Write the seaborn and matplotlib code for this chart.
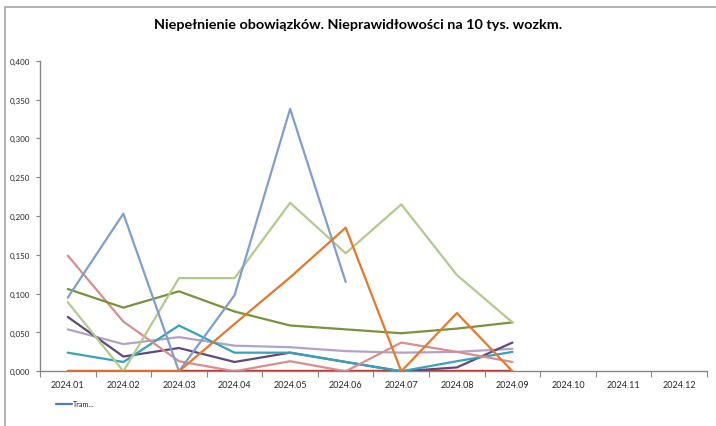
import numpy as np
import pandas as pd
import matplotlib
matplotlib.use("Agg")
import matplotlib.pyplot as plt
import seaborn as sns
from matplotlib.patches import Rectangle
from matplotlib.ticker import FuncFormatter, FixedLocator

sns.set_theme(style="white")
plt.rcParams['font.family'] = ['Lato', 'DejaVu Sans']

months = ["2024.01", "2024.02", "2024.03", "2024.04", "2024.05", "2024.06",
          "2024.07", "2024.08", "2024.09", "2024.10", "2024.11", "2024.12"]
nan = np.nan
tram = [0, 0, 0, 0, 0, 0, 0, 0, 0, nan, nan, nan]
red_s = [0, 0, 0, 0, 0, 0, 0, 0, 0, nan, nan, nan]
lpurple = [0.054, 0.035, 0.044, 0.033, 0.031, 0.026, 0.024, 0.025, 0.029, nan, nan, nan]
dpurple = [0.070, 0.019, 0.030, 0.012, 0.024, 0.012, 0.000, 0.005, 0.037, nan, nan, nan]
teal = [0.024, 0.012, 0.059, 0.024, 0.024, 0.012, 0.000, 0.013, 0.025, nan, nan, nan]
pink = [0.149, 0.064, 0.013, 0.000, 0.013, 0.000, 0.037, 0.025, 0.012, nan, nan, nan]
dgreen = [0.106, 0.082, 0.103, 0.077, 0.059, 0.054, 0.049, 0.055, 0.063, nan, nan, nan]
lgreen = [0.089, 0.000, 0.120, 0.120, 0.217, 0.152, 0.215, 0.124, 0.063, nan, nan, nan]
lblue = [0.095, 0.203, 0.000, 0.098, 0.338, 0.115, nan, nan, nan, nan, nan, nan]
orange = [0.000, 0.000, 0.000, 0.061, 0.121, 0.185, 0.000, 0.075, 0.000, nan, nan, nan]

series = [
    ("Tram...", tram, "#4F7BC0"),
    ("s2", red_s, "#B0413E"),
    ("s3", lpurple, "#B3A2C7"),
    ("s4", dpurple, "#604A7B"),
    ("s5", teal, "#37A2BA"),
    ("s6", pink, "#D88E8C"),
    ("s7", dgreen, "#77933C"),
    ("s8", lgreen, "#B2CB8B"),
    ("s9", lblue, "#7F9ED0"),
    ("s10", orange, "#E5792B"),
]

W, H = 716, 427
fig = plt.figure(figsize=(W / 100, H / 100), dpi=100)
fig.patch.set_facecolor("white")
# chart frame
fig.add_artist(Rectangle((5 / W, -0.1), 1.2, (H - 8) / H + 0.1, transform=fig.transFigure,
                         fill=False, edgecolor="#A6A6A6", linewidth=1.2))

ax = fig.add_axes([40 / W, (H - 372.3) / H, (707 - 40) / W, (372.3 - 61.7) / H])
ax.set_facecolor("white")

xpos = np.arange(len(months))
for i, (name, vals, col) in enumerate(series):
    df = pd.DataFrame({"x": xpos, "y": vals})
    sns.lineplot(data=df, x="x", y="y", ax=ax, color=col, linewidth=1.6,
                 label=name if i == 0 else None, legend=False, zorder=2 + i)

ax.set_xlim(-0.5, len(months) - 0.5)
ax.set_ylim(0, 0.4)
ax.set_yticks(np.arange(0, 0.401, 0.05))
ax.yaxis.set_major_formatter(FuncFormatter(lambda v, p: f"{v:.3f}".replace(".", ",")))
ax.set_xticks(xpos)
ax.set_xticklabels(months)
ax.xaxis.set_minor_locator(FixedLocator(np.arange(-0.5, len(months), 1.0)))
ax.tick_params(axis="x", which="major", length=0, labelsize=6.5, pad=6, colors="#262626")
ax.tick_params(axis="x", which="minor", length=4, width=0.8, color="#868686", direction="out", bottom=True)
ax.tick_params(axis="y", which="major", length=3, width=0.8, color="#868686", direction="out",
               labelsize=5.8, left=True, pad=4, labelcolor="#262626")
ax.set_xlabel("")
ax.set_ylabel("")
for s in ["top", "right"]:
    ax.spines[s].set_visible(False)
for s in ["left", "bottom"]:
    ax.spines[s].set_color("#868686")
    ax.spines[s].set_linewidth(1.0)
ax.grid(False)

fig.text(358 / W, 1 - 25 / H, "Niepełnienie obowiązków. Nieprawidłowości na 10 tys. wozkm.",
         ha="center", va="center", fontsize=10.4, fontweight="bold", color="#000000")

h, l = ax.get_legend_handles_labels()
leg = fig.legend(h, l, loc="center left", bbox_to_anchor=(52 / W, 1 - 405 / H), frameon=False,
                 fontsize=5.2, handlelength=2.2, handletextpad=0.2, borderpad=0)

fig.savefig("out.png", dpi=100, facecolor="white")
